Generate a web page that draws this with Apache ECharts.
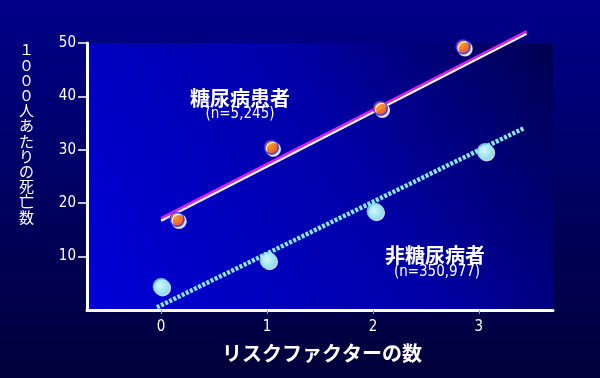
<!DOCTYPE html>
<html>
<head>
<meta charset="utf-8">
<script src="https://cdn.jsdelivr.net/npm/echarts@6/dist/echarts.min.js"></script>
<style>
html, body { margin: 0; padding: 0; background: #000060; }
#chart { width: 600px; height: 378px; }
</style>
</head>
<body>
<div id="chart"></div>
<script>
// 観測値（リスクファクター数, 1000人あたりの死亡数）
var diabetesX = [0.15, 1.04, 2.07, 2.85];
var diabetesY = [17.0, 30.5, 37.8, 49.3];
var nonDiabetesX = [0.0, 1.01, 2.02, 3.06];
var nonDiabetesY = [4.4, 9.3, 18.5, 29.7];
// 回帰直線の両端
var diabetesFitX = [0.0, 3.45];
var diabetesFitY = [17.2, 52.2];
var nonFitX = [-0.04, 3.42];
var nonFitY = [0.5, 34.0];
var xTicks = [0, 1, 2, 3];
var yTicks = [10, 20, 30, 40, 50];

function pairs(xs, ys) {
	var out = [];
	for (var i = 0; i < xs.length; i++) {
		out.push([xs[i], ys[i]]);
	}
	return out;
}

var font = "'Noto Sans CJK JP', 'DejaVu Sans', sans-serif";
var numFont = "'DejaVu Sans Condensed', 'Liberation Sans Narrow', 'Noto Sans CJK JP', sans-serif";

var chart = echarts.init(document.getElementById('chart'));
var option = {
	animation: false,
	backgroundColor: {
		type: 'linear', x: 0, y: 0, x2: 0, y2: 1,
		colorStops: [{ offset: 0, color: '#00008a' }, { offset: 1, color: '#00003a' }]
	},
	grid: {
		left: 87, right: 47, top: 43, bottom: 68,
		show: true,
		borderWidth: 0,
		backgroundColor: {
			type: 'linear', x: 0, y: 1, x2: 1, y2: 0,
			colorStops: [{ offset: 0, color: '#0000d8' }, { offset: 0.55, color: '#0000a8' }, { offset: 1, color: '#000050' }]
		}
	},
	xAxis: {
		type: 'value',
		min: -0.7,
		max: 3.7,
		splitLine: { show: false },
		axisLine: { onZero: false, lineStyle: { color: '#ffffff', width: 3 } },
		axisTick: { customValues: xTicks, length: 4, lineStyle: { color: '#9999cc' } },
		axisLabel: {
			customValues: xTicks,
			color: '#ffffff', fontSize: 15, fontFamily: numFont, margin: 10
		}
	},
	yAxis: {
		type: 'value',
		min: 0,
		max: 50,
		interval: 10,
		splitLine: { show: false },
		axisLine: { onZero: false, lineStyle: { color: '#ffffff', width: 3 } },
		axisTick: { customValues: yTicks, length: 9, lineStyle: { color: '#ffffff', width: 1.5 } },
		axisLabel: {
			customValues: yTicks,
			color: '#ffffff', fontSize: 15, fontFamily: numFont, margin: 11
		}
	},
	series: [{
		type: 'line',
		data: pairs(diabetesFitX, diabetesFitY),
		showSymbol: false,
		clip: false,
		z: 2,
		lineStyle: { color: '#e020e8', width: 2.5, shadowColor: '#ffffff', shadowOffsetY: 2.5, shadowBlur: 0 }
	}, {
		type: 'line',
		data: pairs(nonFitX, nonFitY),
		showSymbol: false,
		clip: false,
		z: 2,
		lineStyle: { color: '#8ce8f0', width: 4.5, type: [3, 1.6] }
	}, {
		type: 'scatter',
		data: pairs(diabetesX, diabetesY),
		symbolSize: 14,
		clip: false,
		z: 3,
		itemStyle: {
			color: {
				type: 'radial', x: 0.35, y: 0.3, r: 0.8,
				colorStops: [{ offset: 0, color: '#ff9a00' }, { offset: 1, color: '#f02800' }]
			},
			borderColor: '#2a2aff',
			borderWidth: 1.5,
			shadowColor: '#ffffff',
			shadowOffsetX: 2,
			shadowOffsetY: 2,
			shadowBlur: 0
		}
	}, {
		type: 'scatter',
		data: pairs(nonDiabetesX, nonDiabetesY),
		symbolSize: 17,
		clip: false,
		z: 3,
		itemStyle: {
			color: {
				type: 'radial', x: 0.45, y: 0.45, r: 0.6,
				colorStops: [{ offset: 0, color: '#d8ffff' }, { offset: 1, color: '#70e0ea' }]
			},
			shadowColor: '#ffffff',
			shadowOffsetX: 1.5,
			shadowOffsetY: 1.5,
			shadowBlur: 0
		}
	}],
	graphic: [{
		type: 'text',
		left: 19, top: 42,
		style: {
			text: '１\n０\n０\n０\n人\nあ\nた\nり\nの\n死\n亡\n数',
			fill: '#ffffff', font: '15px ' + font, lineHeight: 15.2, align: 'center'
		}
	}, {
		type: 'text',
		x: 322, y: 353,
		style: {
			text: 'リスクファクターの数',
			fill: '#ffffff', font: 'bold 20px ' + font, align: 'center', verticalAlign: 'middle'
		}
	}, {
		type: 'text',
		x: 240, y: 98,
		style: { text: '糖尿病患者', fill: '#ffffff', font: 'bold 20px ' + font, align: 'center', verticalAlign: 'middle' }
	}, {
		type: 'text',
		x: 240, y: 114,
		style: { text: '(n=5,245)', fill: '#ffffff', font: '15px ' + numFont, align: 'center', verticalAlign: 'middle' }
	}, {
		type: 'text',
		x: 435, y: 255,
		style: { text: '非糖尿病者', fill: '#ffffff', font: 'bold 20px ' + font, align: 'center', verticalAlign: 'middle' }
	}, {
		type: 'text',
		x: 437, y: 272,
		style: { text: '(n=350,977)', fill: '#ffffff', font: '15px ' + numFont, align: 'center', verticalAlign: 'middle' }
	}]
};
chart.setOption(option);
</script>
</body>
</html>
